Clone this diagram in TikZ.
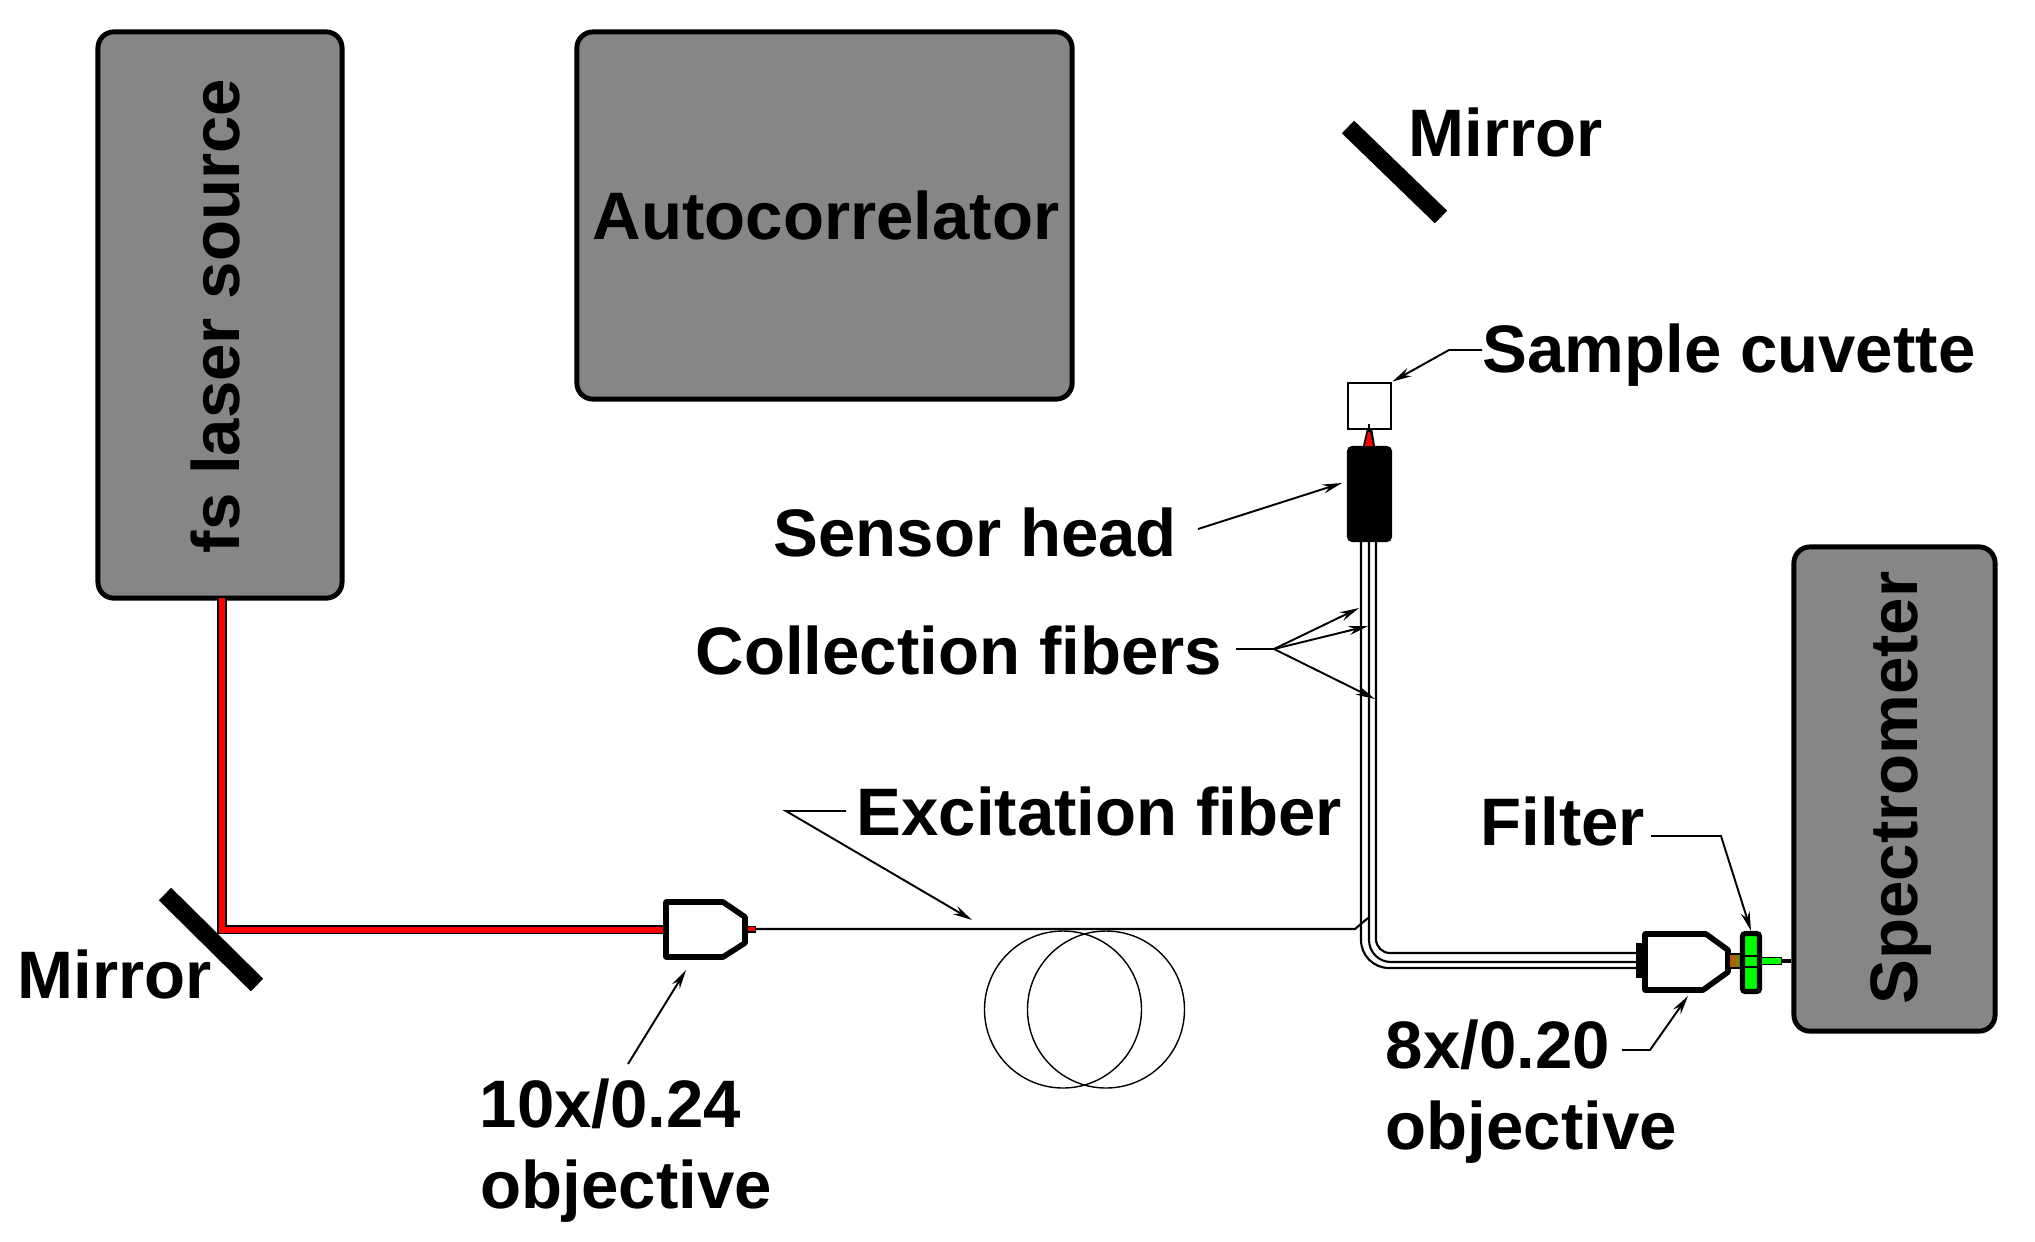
\documentclass[tikz,border=0pt]{standalone}
\usepackage{fontspec}
\setmainfont{Liberation Sans}
\usetikzlibrary{arrows.meta,positioning}
\definecolor{boxgray}{RGB}{134,134,134}
\definecolor{filtergreen}{RGB}{0,255,0}
\definecolor{fadebrown}{RGB}{200,80,0}
\definecolor{fadegreen}{RGB}{90,150,30}
\newcommand{\labelfont}{\fontsize{19.1pt}{23pt}\selectfont\bfseries}
\tikzset{
  devicebox/.style={draw=black,fill=boxgray,line width=1.4pt,rounded corners=0.16cm,inner sep=0pt},
  mirrorbar/.style={line width=5pt,black},
  labeltext/.style={font=\labelfont,inner sep=0pt,text=black},
  leader/.style={line width=0.55pt,-{Stealth[length=5.5pt,width=2.6pt]}},
  plainleader/.style={line width=0.55pt},
  fiberline/.style={line width=0.6pt},
  coilline/.style={line width=0.4pt},
  objbody/.style={draw=black,fill=white,line width=1.6pt,line join=round},
}
\begin{document}
\begin{tikzpicture}[x=0.01cm,y=-0.01cm]
  \useasboundingbox (0,0) rectangle (2035,1241);

  % boxes
  \node[devicebox,minimum width=2.44cm,minimum height=5.66cm] (laser) at (220,315) {};
  \node[devicebox,minimum width=4.95cm,minimum height=3.67cm] (autocorr) at (824.5,215.5) {};
  \node[devicebox,minimum width=2.01cm,minimum height=4.84cm] (spectro) at (1894.5,789) {};
  \node[labeltext,rotate=90,anchor=base] (laserlabel) at (239,316) {fs laser source};
  \node[labeltext,anchor=base] (autocorrlabel) at (826,239) {Autocorrelator};
  \node[labeltext,rotate=90,anchor=base] (spectrolabel) at (1917,788) {Spectrometer};

  % laser beam
  \coordinate (laserout) at (222,598);
  \coordinate (turn) at (222,929.5);
  \coordinate (objin) at (666,929.5);
  \draw[line width=2.6pt,black] (laserout) -- (turn) -- (objin);
  \draw[line width=1.7pt,red] (laserout) -- (turn) -- (objin);
  \draw[mirrorbar] (165,894) -- (257,985);
  \draw[mirrorbar] (1348,127) -- (1441,217);

  % fiber coil
  \draw[coilline] (1063,1009.5) circle (78.5);
  \draw[coilline] (1106,1009.5) circle (78.5);

  % 10x objective
  \draw[objbody] (666,902) -- (723,902) -- (745,917) -- (745,943) -- (723,957) -- (666,957) -- cycle;
  \draw[line width=2pt] (748,929) -- (756,929);
  \draw[red,line width=0.9pt] (748,929) -- (755,929);
  \coordinate (fibstart) at (755,929);
  \coordinate (fibkink) at (1355,929);
  \coordinate (fibjoin) at (1368,918);
  \draw[fiberline] (fibstart) -- (fibkink) -- (fibjoin);

  % sensor head and cuvette
  \node[draw=black,fill=white,line width=0.8pt,minimum width=0.43cm,minimum height=0.46cm,inner sep=0pt] (cuvette) at (1369.5,406) {};
  \node[fill=black,rounded corners=0.05cm,minimum width=0.45cm,minimum height=0.96cm,inner sep=0pt] (head) at (1369.5,494) {};
  \fill[black] (1363,446) -- (1367,428) -- (1372,428) -- (1375,446) -- cycle;
  \fill[red] (1365,446) -- (1368,432) -- (1370,432) -- (1373,446) -- cycle;
  \draw[fiberline] (1369,424) -- (1369,432);

  % collection fibers
  \coordinate (fibtopa) at (1361,542);
  \coordinate (fibtopb) at (1369,542);
  \coordinate (fibtopc) at (1376,542);
  \coordinate (fibenda) at (1636,968);
  \coordinate (fibendb) at (1636,962);
  \coordinate (fibendc) at (1636,953);
  \draw[fiberline,rounded corners=0.28cm] (fibtopa) -- (1361,968) -- (fibenda);
  \draw[fiberline,rounded corners=0.22cm] (fibtopb) -- (1369,962) -- (fibendb);
  \draw[fiberline,rounded corners=0.14cm] (fibtopc) -- (1376,953) -- (fibendc);

  % 8x objective
  \fill[black] (1636,943) rectangle (1646,978);
  \draw[objbody] (1645,934) -- (1706,934) -- (1728,950) -- (1728,972) -- (1703,990) -- (1645,990) -- cycle;

  % filter and green beam
  \shade[left color=fadebrown,right color=fadegreen] (1730,954) rectangle (1741,968);
  \draw[line width=0.5pt] (1730,954) -- (1741,954) (1730,968) -- (1741,968);
  \node[draw=black,fill=filtergreen,line width=1.5pt,rounded corners=0.03cm,minimum width=0.17cm,minimum height=0.58cm,inner sep=0pt] (filter) at (1751,962.5) {};
  \draw[line width=0.8pt] (1743,956) -- (1759,956) (1743,967) -- (1759,967);
  \coordinate (beamend) at (1782,961);
  \coordinate (spectroin) at (spectro.west |- beamend);
  \draw[line width=2.4pt] (filter.east |- beamend) -- (beamend);
  \draw[filtergreen,line width=1.5pt] (1762,961) -- (1781,961);
  \draw[line width=0.9pt] (beamend) -- (spectroin);

  % labels
  \node[labeltext,anchor=base west] (mirrortop) at (1408,156) {Mirror};
  \node[labeltext,anchor=base west] (mirrorlow) at (17,998) {Mirror};
  \node[labeltext,anchor=base west] (cuvettelabel) at (1482,372) {Sample cuvette};
  \node[labeltext,anchor=base west] (headlabel) at (773,556) {Sensor head};
  \node[labeltext,anchor=base west] (collectlabel) at (695,674) {Collection fibers};
  \node[labeltext,anchor=base west] (excitelabel) at (856,835) {Excitation fiber};
  \node[labeltext,anchor=base west] (filterlabel) at (1480,845) {Filter};
  \node[labeltext,anchor=base west] (objtenlabel) at (479,1127) {10x/0.24};
  \node[labeltext,anchor=base west] (objtenword) at (480,1208) {objective};
  \node[labeltext,anchor=base west] (objeightlabel) at (1385,1068) {8x/0.20};
  \node[labeltext,anchor=base west] (objeightword) at (1385,1149) {objective};

  % leaders
  \coordinate (cuvettestart) at (1482,350);
  \coordinate (cuvettebend) at (1449,350);
  \draw[leader] (cuvettestart) -- (cuvettebend) -- (cuvette.north east);
  \coordinate (headstart) at (1198,529);
  \coordinate (headtip) at (1342,483);
  \draw[leader] (headstart) -- (headtip);
  \coordinate (collectstart) at (1236,649);
  \coordinate (collectfan) at (1274,649);
  \draw[plainleader] (collectstart) -- (collectfan);
  \draw[leader] (collectfan) -- (1359,608);
  \draw[leader] (collectfan) -- (1368,626);
  \draw[leader] (collectfan) -- (1375,699);
  \coordinate (excitestart) at (846,811);
  \coordinate (excitebend) at (786,811);
  \coordinate (excitetip) at (972,920);
  \draw[leader] (excitestart) -- (excitebend) -- (excitetip);
  \coordinate (filterstart) at (1651,836);
  \coordinate (filterbend) at (1721,836);
  \draw[leader] (filterstart) -- (filterbend) -- (filter.north);
  \coordinate (tenstart) at (628,1064);
  \coordinate (tentip) at (686,970);
  \draw[leader] (tenstart) -- (tentip);
  \coordinate (eightstart) at (1622,1050);
  \coordinate (eightbend) at (1650,1050);
  \coordinate (eighttip) at (1688,996);
  \draw[leader] (eightstart) -- (eightbend) -- (eighttip);
\end{tikzpicture}
\end{document}
